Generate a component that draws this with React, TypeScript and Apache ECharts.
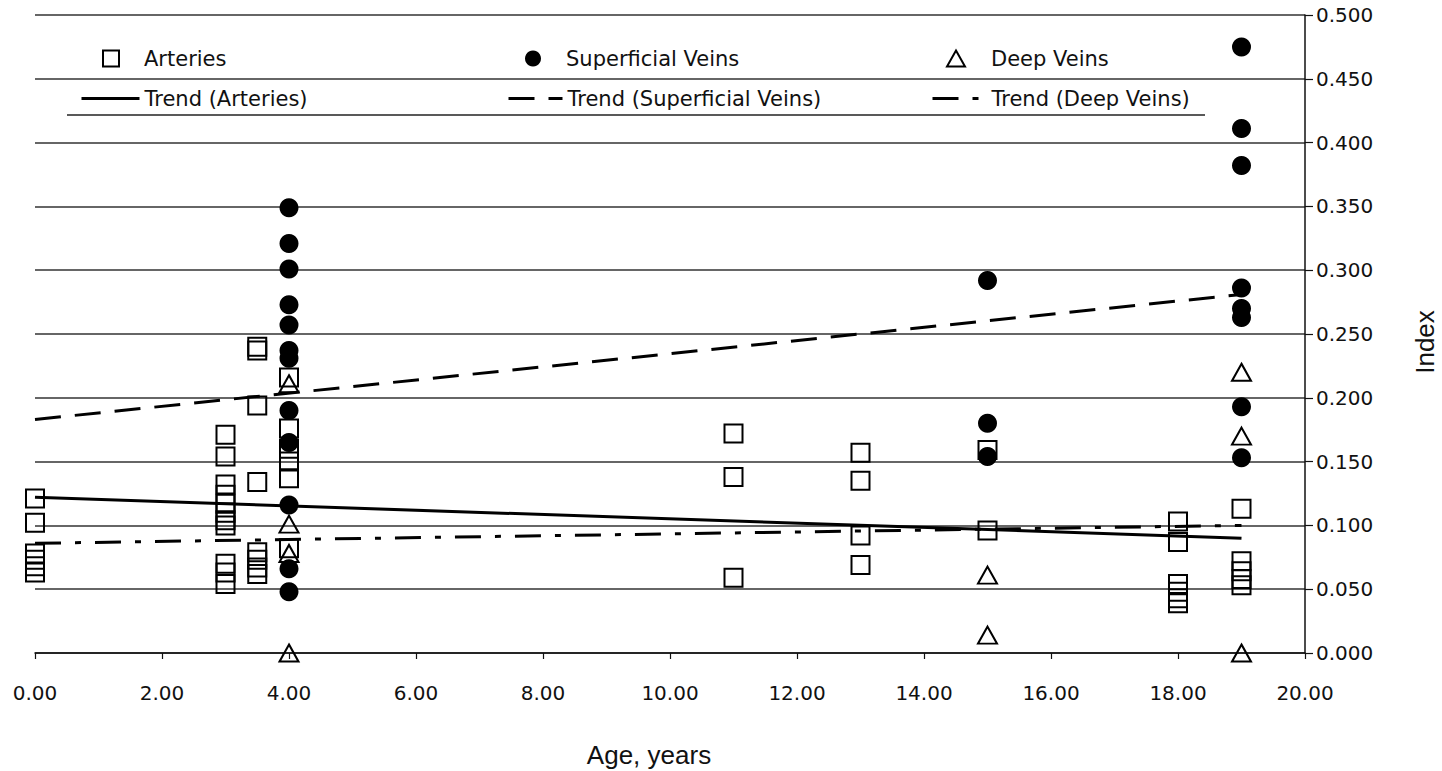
import React, { useEffect, useRef } from "react";
import * as echarts from "echarts";

// ---- data ----
const arteriesAge = [
  0, 0, 0, 0, 0, 0,
  3, 3, 3, 3, 3, 3, 3, 3, 3, 3, 3,
  3.5, 3.5, 3.5, 3.5, 3.5, 3.5, 3.5, 3.5,
  4, 4, 4, 4, 4, 4,
  11, 11, 11,
  13, 13, 13, 13,
  15, 15,
  18, 18, 18, 18, 18, 18,
  19, 19, 19, 19, 19,
];
const arteriesIndex = [
  0.121, 0.102, 0.078, 0.073, 0.068, 0.063,
  0.171, 0.154, 0.132, 0.124, 0.117, 0.110, 0.104, 0.100, 0.070, 0.063, 0.054,
  0.240, 0.237, 0.194, 0.134, 0.079, 0.073, 0.067, 0.062,
  0.216, 0.176, 0.160, 0.150, 0.137, 0.082,
  0.172, 0.138, 0.059,
  0.157, 0.135, 0.092, 0.069,
  0.159, 0.096,
  0.103, 0.087, 0.054, 0.048, 0.043, 0.039,
  0.113, 0.072, 0.064, 0.058, 0.053,
];

const superficialAge = [
  4, 4, 4, 4, 4, 4, 4, 4, 4, 4, 4, 4,
  15, 15, 15,
  19, 19, 19, 19, 19, 19, 19, 19,
];
const superficialIndex = [
  0.349, 0.321, 0.301, 0.273, 0.257, 0.237, 0.231, 0.190, 0.165, 0.116, 0.066, 0.048,
  0.292, 0.180, 0.154,
  0.475, 0.411, 0.382, 0.286, 0.270, 0.263, 0.193, 0.153,
];

const deepAge = [4, 4, 4, 4, 15, 15, 19, 19, 19];
const deepIndex = [0.211, 0.101, 0.078, 0.0, 0.061, 0.014, 0.220, 0.170, 0.0];

const trendAge = [0, 19];
const trendArteries = [0.122, 0.09];
const trendSuperficial = [0.183, 0.281];
const trendDeep = [0.086, 0.1];

const xMin = 0;
const xMax = 20;
const xStep = 2;
const yMin = 0;
const yMax = 0.5;
const yStep = 0.05;

const names = {
  art: "Arteries",
  sup: "Superficial Veins",
  deep: "Deep Veins",
  tArt: "Trend (Arteries)",
  tSup: "Trend (Superficial Veins)",
  tDeep: "Trend (Deep Veins)",
};

const zip = (xs: number[], ys: number[]) => xs.map((x, i) => [x, ys[i]]);

const FONT = "DejaVu Sans";

export default function App() {
  const ref = useRef<HTMLDivElement>(null);

  useEffect(() => {
    if (!ref.current) return;
    const chart = echarts.init(ref.current, null, { renderer: "svg" });

    const mkMarkerLegend = (name: string, left: number, w: number, h: number, pad: number) => ({
      data: [name],
      left,
      top: 48,
      padding: 0,
      itemWidth: w,
      itemHeight: h,
      selectedMode: false,
      textStyle: {
        fontFamily: FONT,
        fontSize: 21,
        color: "#111",
        lineHeight: 18,
        padding: [0, 0, 0, pad],
      },
    });
    const mkLineLegend = (name: string, left: number, w: number) => ({
      data: [name],
      left,
      top: 88,
      padding: 0,
      itemWidth: w,
      itemHeight: 18,
      selectedMode: false,
      itemStyle: { color: "rgba(0,0,0,0)", borderWidth: 0, opacity: 0 },
      lineStyle: { width: 3 },
      textStyle: { fontFamily: FONT, fontSize: 21, color: "#111", lineHeight: 18 },
    });

    chart.setOption({
      animation: false,
      backgroundColor: "#fff",
      grid: { left: 35, right: 137, top: 15, bottom: 118 },
      legend: [
        mkMarkerLegend(names.art, 102, 16, 16, 20),
        mkMarkerLegend(names.sup, 525, 16, 16, 20),
        mkMarkerLegend(names.deep, 946, 18, 16, 21),
        mkLineLegend(names.tArt, 80, 58),
        mkLineLegend(names.tSup, 507, 54),
        mkLineLegend(names.tDeep, 931, 54),
      ],
      xAxis: {
        type: "value",
        min: xMin,
        max: xMax,
        interval: xStep,
        axisLine: { show: true, onZero: false, lineStyle: { color: "#111", width: 1.5 } },
        axisTick: { show: true, length: 6, lineStyle: { color: "#111", width: 1.2 } },
        axisLabel: {
          formatter: (v: number) => v.toFixed(2),
          fontFamily: FONT,
          fontSize: 20,
          color: "#111",
          margin: 30,
        },
        splitLine: { show: false },
      },
      yAxis: {
        type: "value",
        position: "right",
        min: yMin,
        max: yMax,
        interval: yStep,
        axisLine: { show: true, onZero: false, lineStyle: { color: "#111", width: 1.5 } },
        axisTick: { show: true, length: 8, lineStyle: { color: "#111", width: 1.2 } },
        axisLabel: {
          formatter: (v: number) => v.toFixed(3),
          fontFamily: FONT,
          fontSize: 20,
          color: "#111",
          margin: 11,
        },
        splitLine: { show: true, lineStyle: { color: "#333", width: 1.5 } },
      },
      graphic: [
        {
          type: "line",
          shape: { x1: 67, y1: 115, x2: 1205, y2: 115 },
          style: { stroke: "#222", lineWidth: 1.5 },
          silent: true,
        },
        {
          type: "text",
          x: 649,
          y: 755,
          style: {
            text: "Age, years",
            fontFamily: "Liberation Sans",
            fontSize: 26,
            fill: "#111",
            align: "center",
            verticalAlign: "middle",
          },
        },
        {
          type: "text",
          x: 1425,
          y: 342,
          rotation: Math.PI / 2,
          style: {
            text: "Index",
            fontFamily: "Liberation Sans",
            fontSize: 26,
            fill: "#111",
            align: "center",
            verticalAlign: "middle",
          },
        },
      ],
      series: [
        {
          name: names.tArt,
          type: "line",
          data: zip(trendAge, trendArteries),
          symbol: "none",
          silent: true,
          z: 2,
          lineStyle: { color: "#000", width: 3 },
          itemStyle: { color: "#000" },
        },
        {
          name: names.tSup,
          type: "line",
          data: zip(trendAge, trendSuperficial),
          symbol: "none",
          silent: true,
          z: 2,
          lineStyle: { color: "#000", width: 3, type: [26, 14] },
          itemStyle: { color: "#000" },
        },
        {
          name: names.tDeep,
          type: "line",
          data: zip(trendAge, trendDeep),
          symbol: "none",
          silent: true,
          z: 2,
          lineStyle: { color: "#000", width: 3, type: [26, 14, 6, 14] },
          itemStyle: { color: "#000" },
        },
        {
          name: names.art,
          type: "scatter",
          data: zip(arteriesAge, arteriesIndex),
          symbol: "rect",
          symbolSize: 18,
          silent: true,
          z: 3,
          itemStyle: { color: "rgba(255,255,255,0)", borderColor: "#000", borderWidth: 2, opacity: 1 },
        },
        {
          name: names.sup,
          type: "scatter",
          data: zip(superficialAge, superficialIndex),
          symbol: "circle",
          symbolSize: 19,
          silent: true,
          z: 3,
          itemStyle: { color: "#000", opacity: 1 },
        },
        {
          name: names.deep,
          type: "scatter",
          data: zip(deepAge, deepIndex),
          symbol: "triangle",
          symbolSize: [19, 17],
          silent: true,
          z: 3,
          itemStyle: { color: "rgba(255,255,255,0)", borderColor: "#000", borderWidth: 2, opacity: 1 },
        },
      ],
    });

    return () => chart.dispose();
  }, []);

  return (
    <div
      ref={ref}
      style={{ position: "fixed", left: 0, top: 0, width: 1442, height: 771, background: "#fff" }}
    />
  );
}
